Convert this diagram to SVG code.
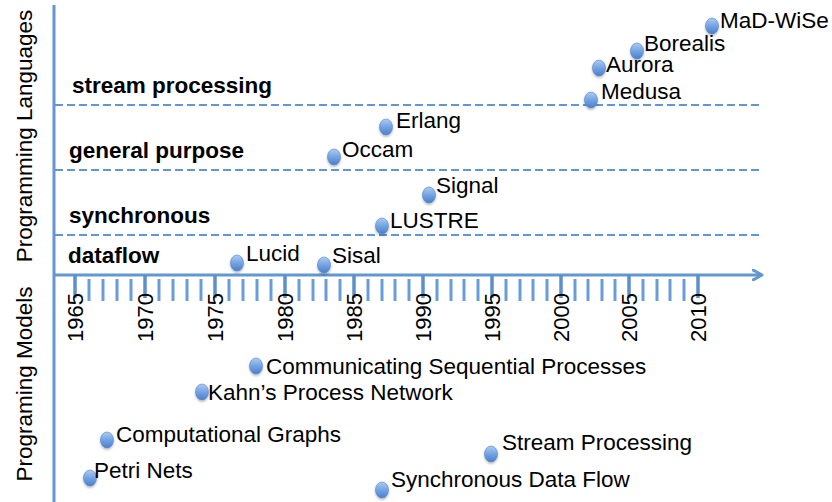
<svg xmlns="http://www.w3.org/2000/svg" width="832" height="502" viewBox="0 0 832 502">
  <defs>
    <linearGradient id="dotFill" x1="0" y1="0" x2="0" y2="1">
      <stop offset="0" stop-color="#aecbf3"/>
      <stop offset="0.5" stop-color="#74a3e2"/>
      <stop offset="1" stop-color="#4a7fca"/>
    </linearGradient>
    <filter id="soft" x="-50%" y="-50%" width="200%" height="200%">
      <feDropShadow dx="0" dy="1.5" stdDeviation="1" flood-color="#000" flood-opacity="0.3"/>
    </filter>
    <marker id="arrowOpen" markerWidth="12" markerHeight="12" refX="10" refY="6" orient="auto" markerUnits="userSpaceOnUse">
      <path d="M1,1 L10,6 L1,11" fill="none" stroke="#6397d2" stroke-width="3" stroke-linecap="round" stroke-linejoin="round"/>
    </marker>
    <style>
      text { font-family: "Liberation Sans", Arial, Helvetica, sans-serif; fill: #000; }
      .lbl { font-size: 22.5px; }
      .cat { font-size: 22.5px; font-weight: bold; }
      .axisTitle { font-size: 22.5px; text-anchor: middle; }
      .year { font-size: 22px; }
      .axis { stroke: #6397d2; stroke-width: 3; fill: none; }
      .lane { stroke: #6397d2; stroke-width: 2.2; stroke-dasharray: 8 4; fill: none; }
      .major { stroke: #5d8fcd; stroke-width: 3.5; }
      .minor { stroke: #6a9dd8; stroke-width: 3; }
      .dot { fill: url(#dotFill); stroke: #5587cb; stroke-width: 0.6; filter: url(#soft); }
    </style>
  </defs>

  <!-- axis titles -->
  <text class="axisTitle" transform="translate(32,136) rotate(-90)">Programming Languages</text>
  <text class="axisTitle" transform="translate(32,384) rotate(-90)">Programing Models</text>

  <!-- language family separators -->
  <g id="lanes">
    <line class="lane" x1="55" y1="105" x2="760" y2="105"/>
    <line class="lane" x1="55" y1="170" x2="760" y2="170"/>
    <line class="lane" x1="55" y1="235" x2="760" y2="235"/>
  </g>

  <!-- axes and connectors -->
  <g id="connectors">
    <line class="axis" x1="54" y1="5" x2="54" y2="502"/>
    <line class="axis" x1="54" y1="275" x2="762" y2="275" marker-end="url(#arrowOpen)"/>
  </g>

  <!-- year ticks: one per year, heavier every five years -->
  <g id="ticks">
    <line class="major" x1="75" y1="275" x2="75" y2="298"/>
    <line class="minor" x1="89" y1="279" x2="89" y2="301"/>
    <line class="minor" x1="103" y1="279" x2="103" y2="301"/>
    <line class="minor" x1="117" y1="279" x2="117" y2="301"/>
    <line class="minor" x1="131" y1="279" x2="131" y2="301"/>
    <line class="major" x1="145" y1="275" x2="145" y2="298"/>
    <line class="minor" x1="159" y1="279" x2="159" y2="301"/>
    <line class="minor" x1="173" y1="279" x2="173" y2="301"/>
    <line class="minor" x1="187" y1="279" x2="187" y2="301"/>
    <line class="minor" x1="201" y1="279" x2="201" y2="301"/>
    <line class="major" x1="215" y1="275" x2="215" y2="298"/>
    <line class="minor" x1="229" y1="279" x2="229" y2="301"/>
    <line class="minor" x1="243" y1="279" x2="243" y2="301"/>
    <line class="minor" x1="257" y1="279" x2="257" y2="301"/>
    <line class="minor" x1="271" y1="279" x2="271" y2="301"/>
    <line class="major" x1="285" y1="275" x2="285" y2="298"/>
    <line class="minor" x1="299" y1="279" x2="299" y2="301"/>
    <line class="minor" x1="313" y1="279" x2="313" y2="301"/>
    <line class="minor" x1="326" y1="279" x2="326" y2="301"/>
    <line class="minor" x1="340" y1="279" x2="340" y2="301"/>
    <line class="major" x1="354" y1="275" x2="354" y2="298"/>
    <line class="minor" x1="368" y1="279" x2="368" y2="301"/>
    <line class="minor" x1="382" y1="279" x2="382" y2="301"/>
    <line class="minor" x1="395" y1="279" x2="395" y2="301"/>
    <line class="minor" x1="409" y1="279" x2="409" y2="301"/>
    <line class="major" x1="423" y1="275" x2="423" y2="298"/>
    <line class="minor" x1="437" y1="279" x2="437" y2="301"/>
    <line class="minor" x1="451" y1="279" x2="451" y2="301"/>
    <line class="minor" x1="464" y1="279" x2="464" y2="301"/>
    <line class="minor" x1="478" y1="279" x2="478" y2="301"/>
    <line class="major" x1="492" y1="275" x2="492" y2="298"/>
    <line class="minor" x1="506" y1="279" x2="506" y2="301"/>
    <line class="minor" x1="520" y1="279" x2="520" y2="301"/>
    <line class="minor" x1="533" y1="279" x2="533" y2="301"/>
    <line class="minor" x1="547" y1="279" x2="547" y2="301"/>
    <line class="major" x1="561" y1="275" x2="561" y2="298"/>
    <line class="minor" x1="575" y1="279" x2="575" y2="301"/>
    <line class="minor" x1="588" y1="279" x2="588" y2="301"/>
    <line class="minor" x1="602" y1="279" x2="602" y2="301"/>
    <line class="minor" x1="615" y1="279" x2="615" y2="301"/>
    <line class="major" x1="629" y1="275" x2="629" y2="298"/>
    <line class="minor" x1="643" y1="279" x2="643" y2="301"/>
    <line class="minor" x1="657" y1="279" x2="657" y2="301"/>
    <line class="minor" x1="670" y1="279" x2="670" y2="301"/>
    <line class="minor" x1="684" y1="279" x2="684" y2="301"/>
    <line class="major" x1="698" y1="275" x2="698" y2="298"/>
  </g>

  <!-- year labels -->
  <g id="years">
    <text class="year" transform="translate(83,342) rotate(-90)">1965</text>
    <text class="year" transform="translate(153,342) rotate(-90)">1970</text>
    <text class="year" transform="translate(223,342) rotate(-90)">1975</text>
    <text class="year" transform="translate(293,342) rotate(-90)">1980</text>
    <text class="year" transform="translate(362,342) rotate(-90)">1985</text>
    <text class="year" transform="translate(431,342) rotate(-90)">1990</text>
    <text class="year" transform="translate(500,342) rotate(-90)">1995</text>
    <text class="year" transform="translate(569,342) rotate(-90)">2000</text>
    <text class="year" transform="translate(637,342) rotate(-90)">2005</text>
    <text class="year" transform="translate(706,342) rotate(-90)">2010</text>
  </g>

  <!-- language categories -->
  <g id="cat-stream"><text class="cat" x="72" y="93">stream processing</text></g>
  <g id="cat-general"><text class="cat" x="69" y="158">general purpose</text></g>
  <g id="cat-synchronous"><text class="cat" x="69" y="223">synchronous</text></g>
  <g id="cat-dataflow"><text class="cat" x="68" y="263">dataflow</text></g>

  <!-- programming languages -->
  <g id="lucid"><ellipse class="dot" cx="237" cy="263" rx="6.5" ry="8"/><text class="lbl" x="246" y="261">Lucid</text></g>
  <g id="sisal"><ellipse class="dot" cx="324" cy="265" rx="6.5" ry="8"/><text class="lbl" x="332" y="263">Sisal</text></g>
  <g id="lustre"><ellipse class="dot" cx="382" cy="226" rx="6.5" ry="8"/><text class="lbl" x="390" y="228">LUSTRE</text></g>
  <g id="signal"><ellipse class="dot" cx="429" cy="195" rx="6.5" ry="8"/><text class="lbl" x="436" y="193">Signal</text></g>
  <g id="occam"><ellipse class="dot" cx="334" cy="157" rx="6.5" ry="8"/><text class="lbl" x="342" y="157">Occam</text></g>
  <g id="erlang"><ellipse class="dot" cx="386" cy="127" rx="6.5" ry="8"/><text class="lbl" x="396" y="128">Erlang</text></g>
  <g id="medusa"><ellipse class="dot" cx="591" cy="100" rx="6.5" ry="8"/><text class="lbl" x="601" y="99">Medusa</text></g>
  <g id="aurora"><ellipse class="dot" cx="599" cy="68" rx="6.5" ry="8"/><text class="lbl" x="606" y="72">Aurora</text></g>
  <g id="borealis"><ellipse class="dot" cx="637" cy="51" rx="6.5" ry="8"/><text class="lbl" x="644" y="51">Borealis</text></g>
  <g id="mad-wise"><ellipse class="dot" cx="712" cy="26" rx="6.5" ry="8"/><text class="lbl" x="720" y="28">MaD-WiSe</text></g>

  <!-- programming models -->
  <g id="csp"><ellipse class="dot" cx="256" cy="366" rx="6.5" ry="8"/><text class="lbl" x="266" y="374">Communicating Sequential Processes</text></g>
  <g id="kpn"><ellipse class="dot" cx="202" cy="392" rx="6.5" ry="8"/><text class="lbl" x="208" y="400">Kahn’s Process Network</text></g>
  <g id="computational-graphs"><ellipse class="dot" cx="107" cy="440" rx="6.5" ry="8"/><text class="lbl" x="116" y="442">Computational Graphs</text></g>
  <g id="petri-nets"><ellipse class="dot" cx="90" cy="478" rx="6.5" ry="8"/><text class="lbl" x="94" y="478">Petri Nets</text></g>
  <g id="stream-processing"><ellipse class="dot" cx="491" cy="454" rx="6.5" ry="8"/><text class="lbl" x="502" y="450">Stream Processing</text></g>
  <g id="sdf"><ellipse class="dot" cx="382" cy="490" rx="6.5" ry="8"/><text class="lbl" x="391" y="487">Synchronous Data Flow</text></g>
</svg>
